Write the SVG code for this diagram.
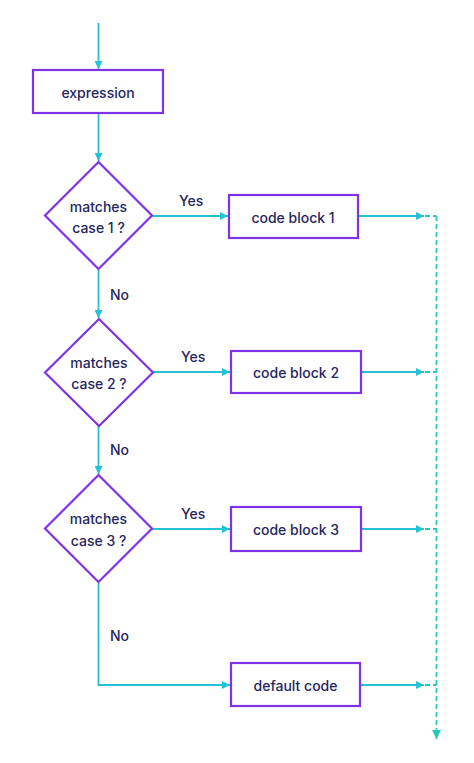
<svg xmlns="http://www.w3.org/2000/svg" width="474" height="763" viewBox="0 0 474 763">
<defs>
<style>
.box{fill:#fff;stroke:#7e34e6;stroke-width:2.2}
.t{font-family:"Inter","Open Sans",sans-serif;font-size:14px;font-weight:500;fill:#25265e;text-anchor:middle;dominant-baseline:central}
.l{font-family:"Inter","Open Sans",sans-serif;font-size:14px;font-weight:500;fill:#25265e;dominant-baseline:central}
.c{fill:none;stroke:#22c3d6;stroke-width:1.8}
.d{fill:none;stroke:#22cbbd;stroke-width:1.8;stroke-dasharray:5 3}
</style>
<marker id="ah" viewBox="0 0 10 10" refX="10" refY="5" markerWidth="8" markerHeight="8" orient="auto" markerUnits="userSpaceOnUse">
<path d="M0,0 L10,5 L0,10 z" fill="#22c3d6"/>
</marker>
<marker id="ah2" viewBox="0 0 10 10" refX="10" refY="5" markerWidth="9" markerHeight="9" orient="auto" markerUnits="userSpaceOnUse">
<path d="M0,0 L10,5 L0,10 z" fill="#22cbbd"/>
</marker>
</defs>
<rect width="474" height="763" fill="#fff"/>
<g id="connectors">
<line class="c" x1="98.5" y1="23" x2="98.5" y2="69" marker-end="url(#ah)"/>
<line class="c" x1="98.5" y1="113" x2="98.5" y2="161" marker-end="url(#ah)"/>
<line class="c" x1="152" y1="216" x2="228" y2="216" marker-end="url(#ah)"/>
<line class="c" x1="98.5" y1="270" x2="98.5" y2="318" marker-end="url(#ah)"/>
<line class="c" x1="153" y1="372" x2="230" y2="372" marker-end="url(#ah)"/>
<line class="c" x1="98.5" y1="426" x2="98.5" y2="474" marker-end="url(#ah)"/>
<line class="c" x1="152" y1="529" x2="230" y2="529" marker-end="url(#ah)"/>
<polyline class="c" points="98.5,582 98.5,685 230,685" marker-end="url(#ah)"/>
<line class="c" x1="358" y1="216" x2="424" y2="216" marker-end="url(#ah)"/>
<line class="c" x1="361" y1="372" x2="424" y2="372" marker-end="url(#ah)"/>
<line class="c" x1="361" y1="529" x2="424" y2="529" marker-end="url(#ah)"/>
<line class="c" x1="360" y1="685" x2="424" y2="685" marker-end="url(#ah)"/>
<line class="d" x1="425" y1="216" x2="436.5" y2="216"/>
<line class="d" x1="425" y1="372" x2="436.5" y2="372"/>
<line class="d" x1="425" y1="529" x2="436.5" y2="529"/>
<line class="d" x1="425" y1="685" x2="436.5" y2="685"/>
<line class="d" x1="436.5" y1="216" x2="436.5" y2="739" marker-end="url(#ah2)"/>
<text class="l" x="179" y="200">Yes</text>
<text class="l" x="181" y="356">Yes</text>
<text class="l" x="181" y="513">Yes</text>
<text class="l" x="110" y="294">No</text>
<text class="l" x="110" y="449">No</text>
<text class="l" x="110" y="635">No</text>
</g>
<g id="expression">
<rect class="box" x="33" y="70" width="130" height="43"/>
<text class="t" x="98" y="92">expression</text>
</g>
<g id="case1">
<polygon class="box" points="98.5,162 152,215.5 98.5,269 45,215.5"/>
<text class="t" x="98.5" y="206">matches</text>
<text class="t" x="98.5" y="227">case 1 ?</text>
</g>
<g id="case2">
<polygon class="box" points="99,319 153,372.5 99,426 45,372.5"/>
<text class="t" x="99" y="362">matches</text>
<text class="t" x="99" y="383">case 2 ?</text>
</g>
<g id="case3">
<polygon class="box" points="98.5,475 152,528.5 98.5,582 45,528.5"/>
<text class="t" x="98.5" y="518">matches</text>
<text class="t" x="98.5" y="540">case 3 ?</text>
</g>
<g id="block1">
<rect class="box" x="229" y="195" width="129" height="43"/>
<text class="t" x="293" y="217">code block 1</text>
</g>
<g id="block2">
<rect class="box" x="231" y="351" width="130" height="42"/>
<text class="t" x="296" y="372">code block 2</text>
</g>
<g id="block3">
<rect class="box" x="231" y="507" width="130" height="44"/>
<text class="t" x="296" y="529">code block 3</text>
</g>
<g id="default">
<rect class="box" x="231" y="663" width="129" height="43"/>
<text class="t" x="295.5" y="685">default code</text>
</g>
</svg>
